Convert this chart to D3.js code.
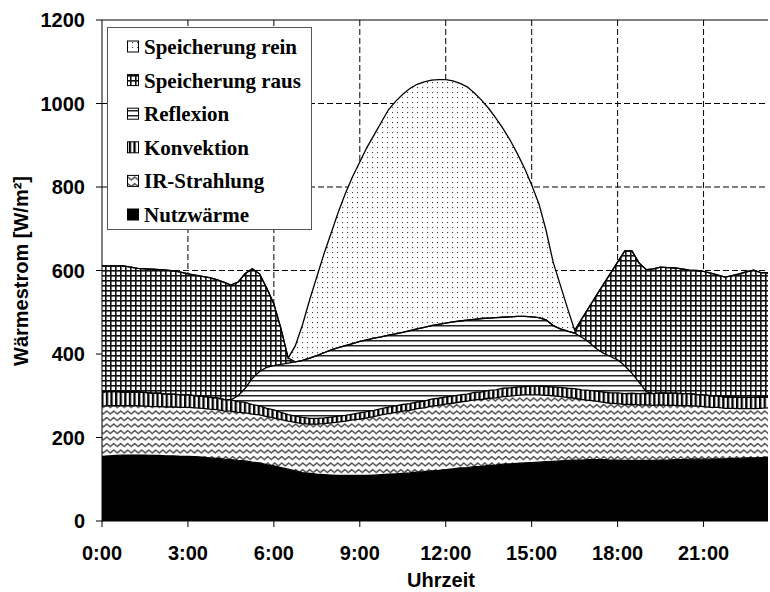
<!DOCTYPE html>
<html><head><meta charset="utf-8">
<script src="https://cdn.jsdelivr.net/npm/d3@7/dist/d3.min.js"></script>
<style>body{margin:0;background:#fff} svg{display:block}</style>
</head><body>
<svg id="c" width="770" height="592"></svg>
<script>
// time of day in hours, 15-minute steps
const hours = d3.range(94).map(i => i * 0.25);
const xTicks = [0, 3, 6, 9, 12, 15, 18, 21];
const xTickLabels = ["0:00","3:00","6:00","9:00","12:00","15:00","18:00","21:00"];
const yTicks = [0, 200, 400, 600, 800, 1000, 1200];

const nutzwaerme = [
155,156,157,158,158,158,158,157, 157,156,156,155,155,154,153,151,
150,148,147,145,144,141,139,135, 132,128,124,120,116,114,112,111,
110,109,109,109,109,109,110,111, 112,113,114,115,117,118,120,121,
123,125,127,128,130,131,133,134, 136,137,138,139,140,141,142,143,
144,145,146,146,147,147,147,146, 146,145,145,145,145,145,146,146,
147,147,148,148,148,148,149,149, 150,150,151,151,152,153];
const irStrahlung = [
120,120,119,118,118,118,117,117, 117,117,117,117,117,117,117,117,
117,116,116,115,115,115,115,115, 115,115,115,116,117,118,120,122,
125,128,130,133,135,138,140,143, 145,147,149,150,152,153,155,156,
157,157,158,159,160,160,161,161, 162,162,163,163,162,161,159,157,
154,151,148,145,142,140,137,136, 135,134,134,133,133,132,132,131,
130,129,128,127,126,124,123,121, 120,119,118,118,118,118];
const konvektion = [
34,34,34,33,33,33,33,32, 32,31,31,30,30,29,29,28,
28,27,27,26,25,23,22,20, 19,17,16,15,15,14,14,14,
14,14,14,14,15,15,15,15, 16,16,16,16,16,16,17,17,
17,17,17,17,18,18,19,19, 20,20,20,20,21,21,21,21,
22,22,23,23,24,24,25,25, 26,26,27,27,28,28,29,29,
29,29,29,28,28,28,28,27, 27,27,27,27,27,26];
const reflexion = [
0,0,0,0,0,0,0,0, 0,0,0,0,0,0,0,0,
0,0,0,14,34,63,82,98, 106,115,123,130,137,144,150,156,
161,164,167,169,171,172,173,172, 172,172,173,175,175,177,176,177,
177,178,177,177,175,176,173,173, 170,170,169,168,166,164,160,147,
140,137,133,126,115,102,93,87, 79,67,48,27,4,0,0,0,
0,0,0,0,0,0,0,0, 0,0,0,0,0,0];
const speicherungRaus = [
302,301,301,302,299,296,296,297, 296,297,295,294,290,289,287,287,
283,281,275,272,275,262,234,190, 148,85,12,0,0,0,0,0,
0,0,0,0,0,0,0,0, 0,0,0,0,0,0,0,0,
0,0,0,0,0,0,0,0, 0,0,0,0,0,0,0,0,
0,0,0,44,84,126,164,199, 234,275,293,286,292,299,301,301,
300,299,296,297,296,294,289,287, 291,296,301,305,298,297];
const speicherungRein = [
0,0,0,0,0,0,0,0, 0,0,0,0,0,0,0,0,
0,0,0,0,0,0,0,0, 0,0,0,39,85,140,189,237,
280,325,365,400,430,461,487,514, 540,557,570,580,586,588,588,586,
583,577,569,559,542,523,502,478, 452,423,390,355,316,273,215,152,
105,55,7,0,0,0,0,0, 0,0,0,0,0,0,0,0,
0,0,0,0,0,0,0,0, 0,0,0,0,0,0];

const keys = ["nutz","ir","konv","refl","raus","rein"];
const legendNames = {rein:"Speicherung rein", raus:"Speicherung raus", refl:"Reflexion",
  konv:"Konvektion", ir:"IR-Strahlung", nutz:"Nutzwärme"};
const legendOrder = ["rein","raus","refl","konv","ir","nutz"];

const table = hours.map((h,i)=>({h, nutz:nutzwaerme[i], ir:irStrahlung[i], konv:konvektion[i],
  refl:reflexion[i], raus:speicherungRaus[i], rein:speicherungRein[i]}));

const svg = d3.select("#c");
const L=102, R=768, T=20, B=521;
const x = d3.scaleLinear().domain([0, 23.25]).range([L, R]);
const y = d3.scaleLinear().domain([0, 1200]).range([B, T]);

// patterns
const defs = svg.append("defs");
function pat(id, w, h, draw){
  const p = defs.append("pattern").attr("id",id).attr("patternUnits","userSpaceOnUse")
    .attr("width",w).attr("height",h);
  p.append("rect").attr("width",w).attr("height",h).attr("fill","#fff");
  draw(p);
}
pat("p-rein",5,5,p=>p.append("rect").attr("x",2).attr("y",2).attr("width",1.1).attr("height",1.1).attr("fill","#444"));
pat("p-raus",5,5,p=>{p.append("rect").attr("x",0).attr("y",0).attr("width",5).attr("height",1.6).attr("fill","#111");
  p.append("rect").attr("x",0).attr("y",0).attr("width",1.6).attr("height",5).attr("fill","#111");});
pat("p-refl",5,5,p=>p.append("rect").attr("x",0).attr("y",0).attr("width",5).attr("height",1.5).attr("fill","#222"));
pat("p-konv",4.6,4.6,p=>p.append("rect").attr("x",0).attr("y",0).attr("width",2.3).attr("height",4.6).attr("fill","#000"));
pat("p-ir",7,6.5,p=>p.append("path").attr("d","M-1.75,4.5 L1.75,1.5 L5.25,4.5 L8.75,1.5").attr("fill","none")
  .attr("stroke","#444").attr("stroke-width",1.3));
const fills = {nutz:"#000", ir:"url(#p-ir)", konv:"url(#p-konv)", refl:"url(#p-refl)", raus:"url(#p-raus)", rein:"url(#p-rein)"};

// gridlines
const grid = svg.append("g");
yTicks.filter(v=>v>0 && v<1200).forEach(v=>grid.append("line").attr("x1",L).attr("x2",R)
  .attr("y1",y(v)).attr("y2",y(v)).attr("stroke","#000").attr("stroke-dasharray","6,3"));
xTicks.filter(v=>v>0).forEach(v=>grid.append("line").attr("x1",x(v)).attr("x2",x(v))
  .attr("y1",T).attr("y2",B).attr("stroke","#000").attr("stroke-dasharray","6,3"));

// stacked areas
const series = d3.stack().keys(keys)(table);
const area = d3.area().x(d=>x(d.data.h)).y0(d=>y(d[0])).y1(d=>y(d[1]));
const line = d3.line().x(d=>x(d.data.h)).y(d=>y(d[1]));
svg.append("g").selectAll("path").data(series).join("path")
  .attr("d",area).attr("fill",d=>fills[d.key]).attr("stroke","none");
svg.append("g").selectAll("path").data(series).join("path")
  .attr("d",line).attr("fill","none").attr("stroke","#000").attr("stroke-width",1.3);

// frame top
svg.append("line").attr("x1",L).attr("x2",R).attr("y1",T).attr("y2",T).attr("stroke","#000");

// axes
const fontAx = "'Liberation Sans', Arial, sans-serif";
const ax = svg.append("g").attr("font-family",fontAx).attr("font-weight","bold").attr("font-size",20);
ax.append("line").attr("x1",L).attr("x2",L).attr("y1",T).attr("y2",B).attr("stroke","#000");
ax.append("line").attr("x1",L).attr("x2",R).attr("y1",B).attr("y2",B).attr("stroke","#000");
yTicks.forEach(v=>{
  ax.append("line").attr("x1",L-6).attr("x2",L).attr("y1",y(v)).attr("y2",y(v)).attr("stroke","#000");
  ax.append("text").attr("x",L-17).attr("y",y(v)+7).attr("text-anchor","end").text(v);
});
xTicks.forEach((v,i)=>{
  ax.append("line").attr("x1",x(v)).attr("x2",x(v)).attr("y1",B).attr("y2",B+6).attr("stroke","#000");
  ax.append("text").attr("x",x(v)).attr("y",560).attr("text-anchor","middle").text(xTickLabels[i]);
});
ax.append("text").attr("x",441).attr("y",587).attr("text-anchor","middle").text("Uhrzeit");
ax.append("text").attr("transform","translate(28,271) rotate(-90)").attr("text-anchor","middle").text("Wärmestrom [W/m²]");

// legend
const lg = svg.append("g");
lg.append("rect").attr("x",107.5).attr("y",27.5).attr("width",204).attr("height",202)
  .attr("fill","#fff").attr("stroke","#555");
legendOrder.forEach((k,i)=>{
  const cy = 47 + i*33.6;
  lg.append("rect").attr("x",127.5).attr("y",cy-6).attr("width",11).attr("height",11)
    .attr("fill",fills[k]).attr("stroke","#000");
  lg.append("text").attr("x",144).attr("y",cy+7).attr("font-family","'Liberation Serif','Times New Roman',serif")
    .attr("font-weight","bold").attr("font-size",21).text(legendNames[k]);
});
</script>
</body></html>
